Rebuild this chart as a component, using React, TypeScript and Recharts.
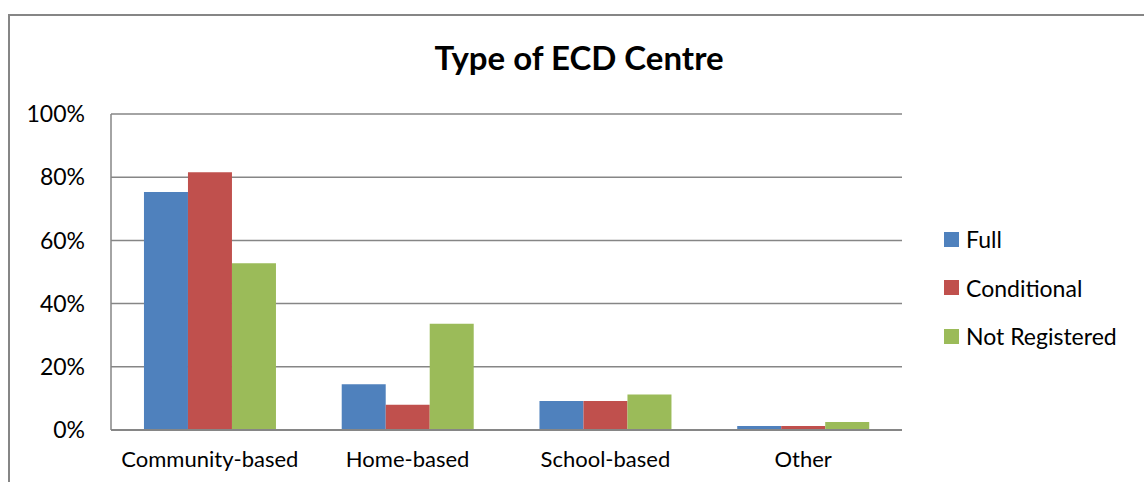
import { Bar, BarChart, CartesianGrid, XAxis, YAxis } from "recharts";

const centreTypes = ["Community-based", "Home-based", "School-based", "Other"];
const full = [75.3, 14.5, 9.2, 1.3];
const conditional = [81.6, 8.0, 9.2, 1.3];
const notRegistered = [52.8, 33.6, 11.2, 2.5];
const yTicks = [0, 20, 40, 60, 80, 100];

const series = [
  { key: "full", name: "Full", color: "#4F81BD" },
  { key: "conditional", name: "Conditional", color: "#C0504D" },
  { key: "notRegistered", name: "Not Registered", color: "#9BBB59" },
];

const data = centreTypes.map((type, i) => ({
  type,
  full: full[i],
  conditional: conditional[i],
  notRegistered: notRegistered[i],
}));

const FONT = "Lato, Calibri, sans-serif";
const AXIS_GREY = "#868686";

function LegendBox() {
  return (
    <div
      style={{
        position: "absolute",
        left: 944,
        top: 215,
        fontFamily: FONT,
        fontSize: 23,
        color: "#000",
      }}
    >
      {series.map((s) => (
        <div
          key={s.key}
          style={{ display: "flex", alignItems: "center", height: 48.5 }}
        >
          <span
            style={{
              width: 15,
              height: 15,
              background: s.color,
              marginRight: 7,
              display: "inline-block",
            }}
          />
          <span>{s.name}</span>
        </div>
      ))}
    </div>
  );
}

export default function App() {
  return (
    <div
      style={{
        position: "fixed",
        left: 0,
        top: 0,
        width: 1144,
        height: 482,
        background: "#fff",
        overflow: "hidden",
      }}
    >
      <div
        style={{
          position: "absolute",
          left: 8,
          top: 14,
          right: -10,
          bottom: -10,
          borderTop: `2px solid ${AXIS_GREY}`,
          borderLeft: `2px solid ${AXIS_GREY}`,
        }}
      />
      <div
        style={{
          position: "absolute",
          left: 0,
          width: 1158,
          top: 37,
          textAlign: "center",
          fontFamily: FONT,
          fontWeight: 700,
          fontSize: 33,
          color: "#000",
        }}
      >
        Type of ECD Centre
      </div>
      <div style={{ position: "absolute", left: 0, top: 0 }}>
        <BarChart
          width={1144}
          height={482}
          data={data}
          margin={{ top: 114, right: 242, bottom: 0, left: 0 }}
          barCategoryGap="16.67%"
          barGap={0}
        >
          <CartesianGrid vertical={false} stroke={AXIS_GREY} strokeWidth={1.5} />
          <XAxis
            dataKey="type"
            height={52}
            axisLine={{ stroke: AXIS_GREY, strokeWidth: 2 }}
            tickLine={false}
            tickSize={0}
            tickMargin={21}
            interval={0}
            tick={{ fontFamily: FONT, fontSize: 22, fill: "#000" }}
          />
          <YAxis
            width={111}
            domain={[0, 100]}
            ticks={yTicks}
            interval={0}
            axisLine={{ stroke: AXIS_GREY, strokeWidth: 1.5 }}
            tickLine={false}
            tickSize={0}
            tickMargin={26}
            tickFormatter={(v) => `${v}%`}
            tick={{ fontFamily: FONT, fontSize: 23, fill: "#000" }}
          />
          {series.map((s) => (
            <Bar
              key={s.key}
              dataKey={s.key}
              name={s.name}
              fill={s.color}
              isAnimationActive={false}
            />
          ))}
        </BarChart>
      </div>
      <LegendBox />
    </div>
  );
}
